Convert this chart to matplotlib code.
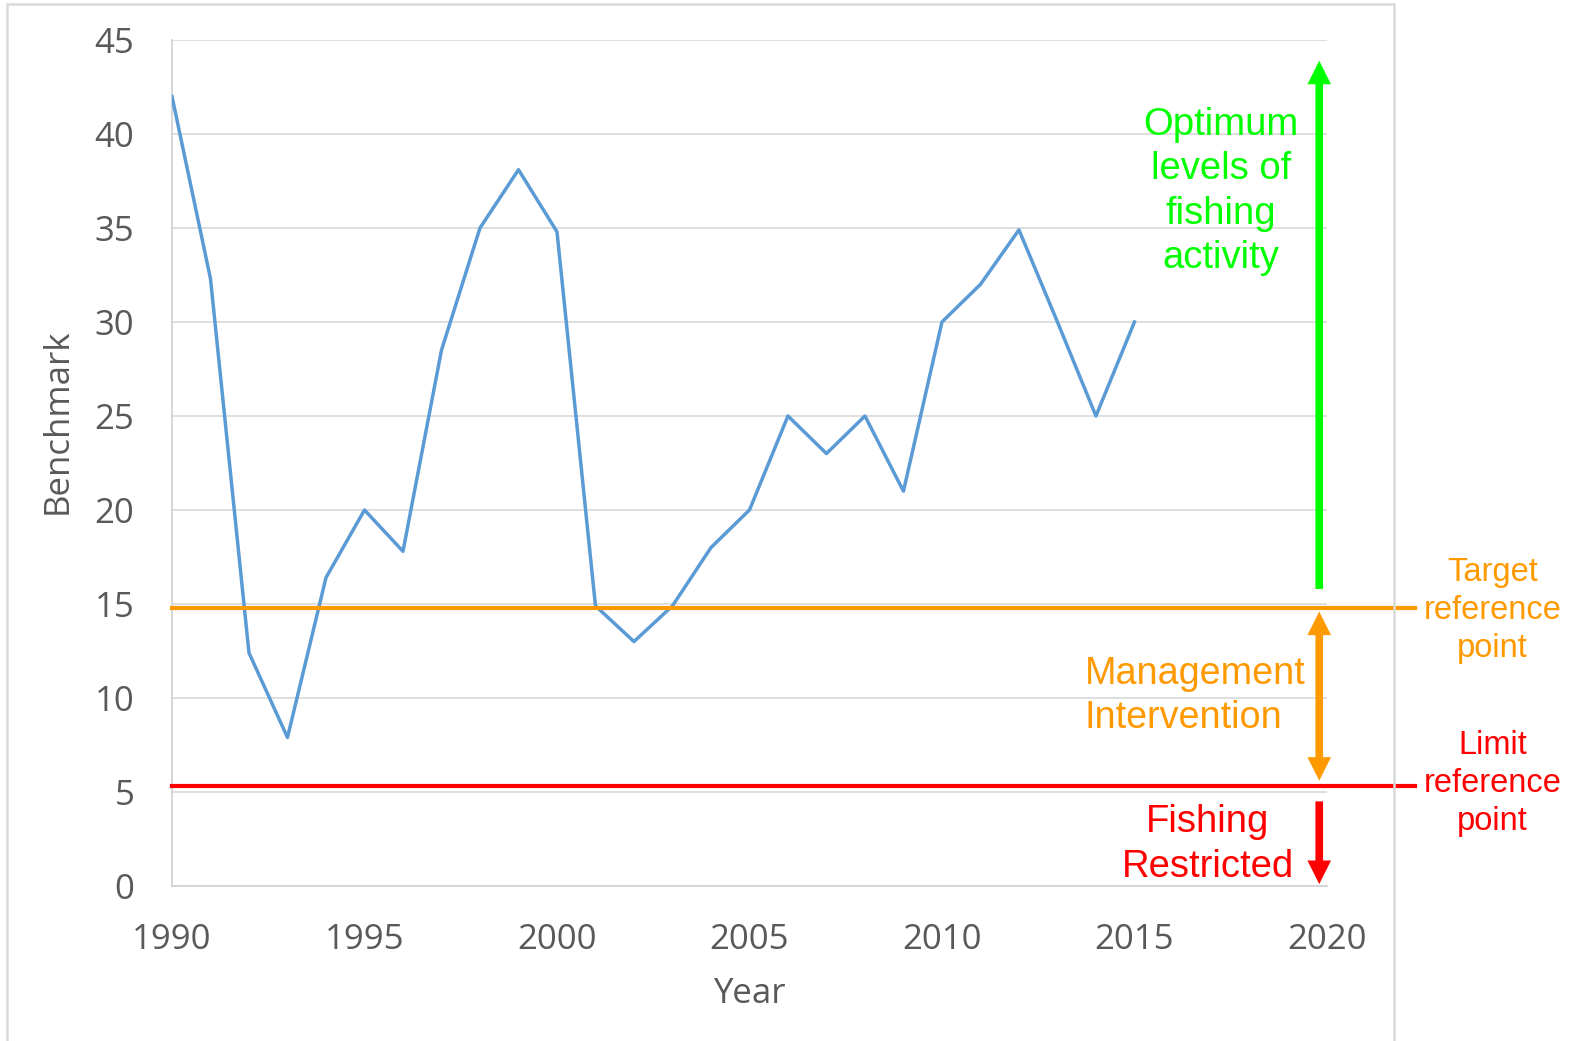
import matplotlib
matplotlib.use("Agg")
import matplotlib.pyplot as plt
from matplotlib.patches import Rectangle

years = list(range(1990, 2016))
benchmark = [42, 32.3, 12.4, 7.9, 16.4, 20, 17.8, 28.5, 35, 38.1, 34.8, 14.9, 13, 14.9,
             18, 20, 25, 23, 25, 21, 30, 32, 34.9, 30, 25, 30]
target_ref = 14.8
limit_ref = 5.3
x_ticks = [1990, 1995, 2000, 2005, 2010, 2015, 2020]
y_ticks = [0, 5, 10, 15, 20, 25, 30, 35, 40, 45]

ARIAL = ['Liberation Sans', 'DejaVu Sans']
TICKF = ['Open Sans', 'DejaVu Sans']
GREY = '#595959'
ORANGE = '#FF9900'
GREEN = '#00FF00'
RED = '#FF0000'

fig = plt.figure(figsize=(15.75, 10.41), dpi=100)
ax = fig.add_axes([0.1092, 0.1489, 0.8425 - 0.1092, 0.9616 - 0.1489])

ax.plot(years, benchmark, color='#5B9BD5', lw=2.5, zorder=3)
ax.set_xlim(1990, 2020)
ax.set_ylim(0, 45)
ax.set_xticks(x_ticks)
ax.set_yticks(y_ticks)
ax.grid(axis='y', color='#D9D9D9', lw=1.2)
ax.set_axisbelow(True)
for s in ['top', 'right']:
    ax.spines[s].set_visible(False)
for s in ['left', 'bottom']:
    ax.spines[s].set_color('#D0D0D0')
    ax.spines[s].set_linewidth(1.2)
ax.tick_params(length=0, colors=GREY, labelsize=25)
ax.tick_params(axis='y', pad=27)
ax.tick_params(axis='x', pad=27)
for lab in ax.get_xticklabels() + ax.get_yticklabels():
    lab.set_family(TICKF)
ax.text(0.5, -0.128, 'Year', transform=ax.transAxes, fontsize=25, color=GREY,
        family=TICKF, ha='center', va='center')
ax.text(-0.099, 0.549, 'Benchmark', transform=ax.transAxes, fontsize=25, color=GREY,
        family=TICKF, ha='center', va='center', rotation=90)

# reference lines extending past axes
x_end = 2022.3
ax.plot([1990, x_end], [target_ref, target_ref], color=ORANGE, lw=3, clip_on=False, zorder=4)
ax.plot([1990, x_end], [limit_ref, limit_ref], color=RED, lw=3, clip_on=False, zorder=4)

ax_x = 2019.8
def arrow(y0, y1, color):
    ax.annotate('', xy=(ax_x, y1), xytext=(ax_x, y0),
                arrowprops=dict(width=5.5, headwidth=17, headlength=17, shrink=0,
                                facecolor=color, edgecolor='none'),
                annotation_clip=False, zorder=5)

arrow(15.8, 43.9, GREEN)
mid = (5.6 + 14.6) / 2
arrow(mid, 14.6, ORANGE)
arrow(mid, 5.6, ORANGE)
arrow(4.5, 0.1, RED)

ax.text(2017.24, 36.95, 'Optimum\nlevels of\nfishing\nactivity', color=GREEN, fontsize=27.5,
        family=ARIAL, ha='center', va='center', linespacing=1.3)
ax.text(2013.7, 10.1, 'Management\nIntervention', color=ORANGE, fontsize=27.2,
        family=ARIAL, ha='left', va='center', linespacing=1.3)
ax.text(2016.9, 2.2, 'Fishing\nRestricted', color=RED, fontsize=27.5,
        family=ARIAL, ha='center', va='center', linespacing=1.3)
ax.text(2024.3, 14.65, 'Target\nreference\npoint', color=ORANGE, fontsize=23.5,
        family=ARIAL, ha='center', va='center', linespacing=1.29)
ax.text(2024.3, 5.45, 'Limit\nreference\npoint', color=RED, fontsize=23.5,
        family=ARIAL, ha='center', va='center', linespacing=1.29)

# outer chart-area border
fig.patches.append(Rectangle((7 / 1575, -0.05), (1394 - 7) / 1575, 1.05 - 4 / 1041,
                             transform=fig.transFigure, fill=False,
                             edgecolor='#D9D9D9', lw=1.8, zorder=0))

fig.savefig('out.png', dpi=100)
